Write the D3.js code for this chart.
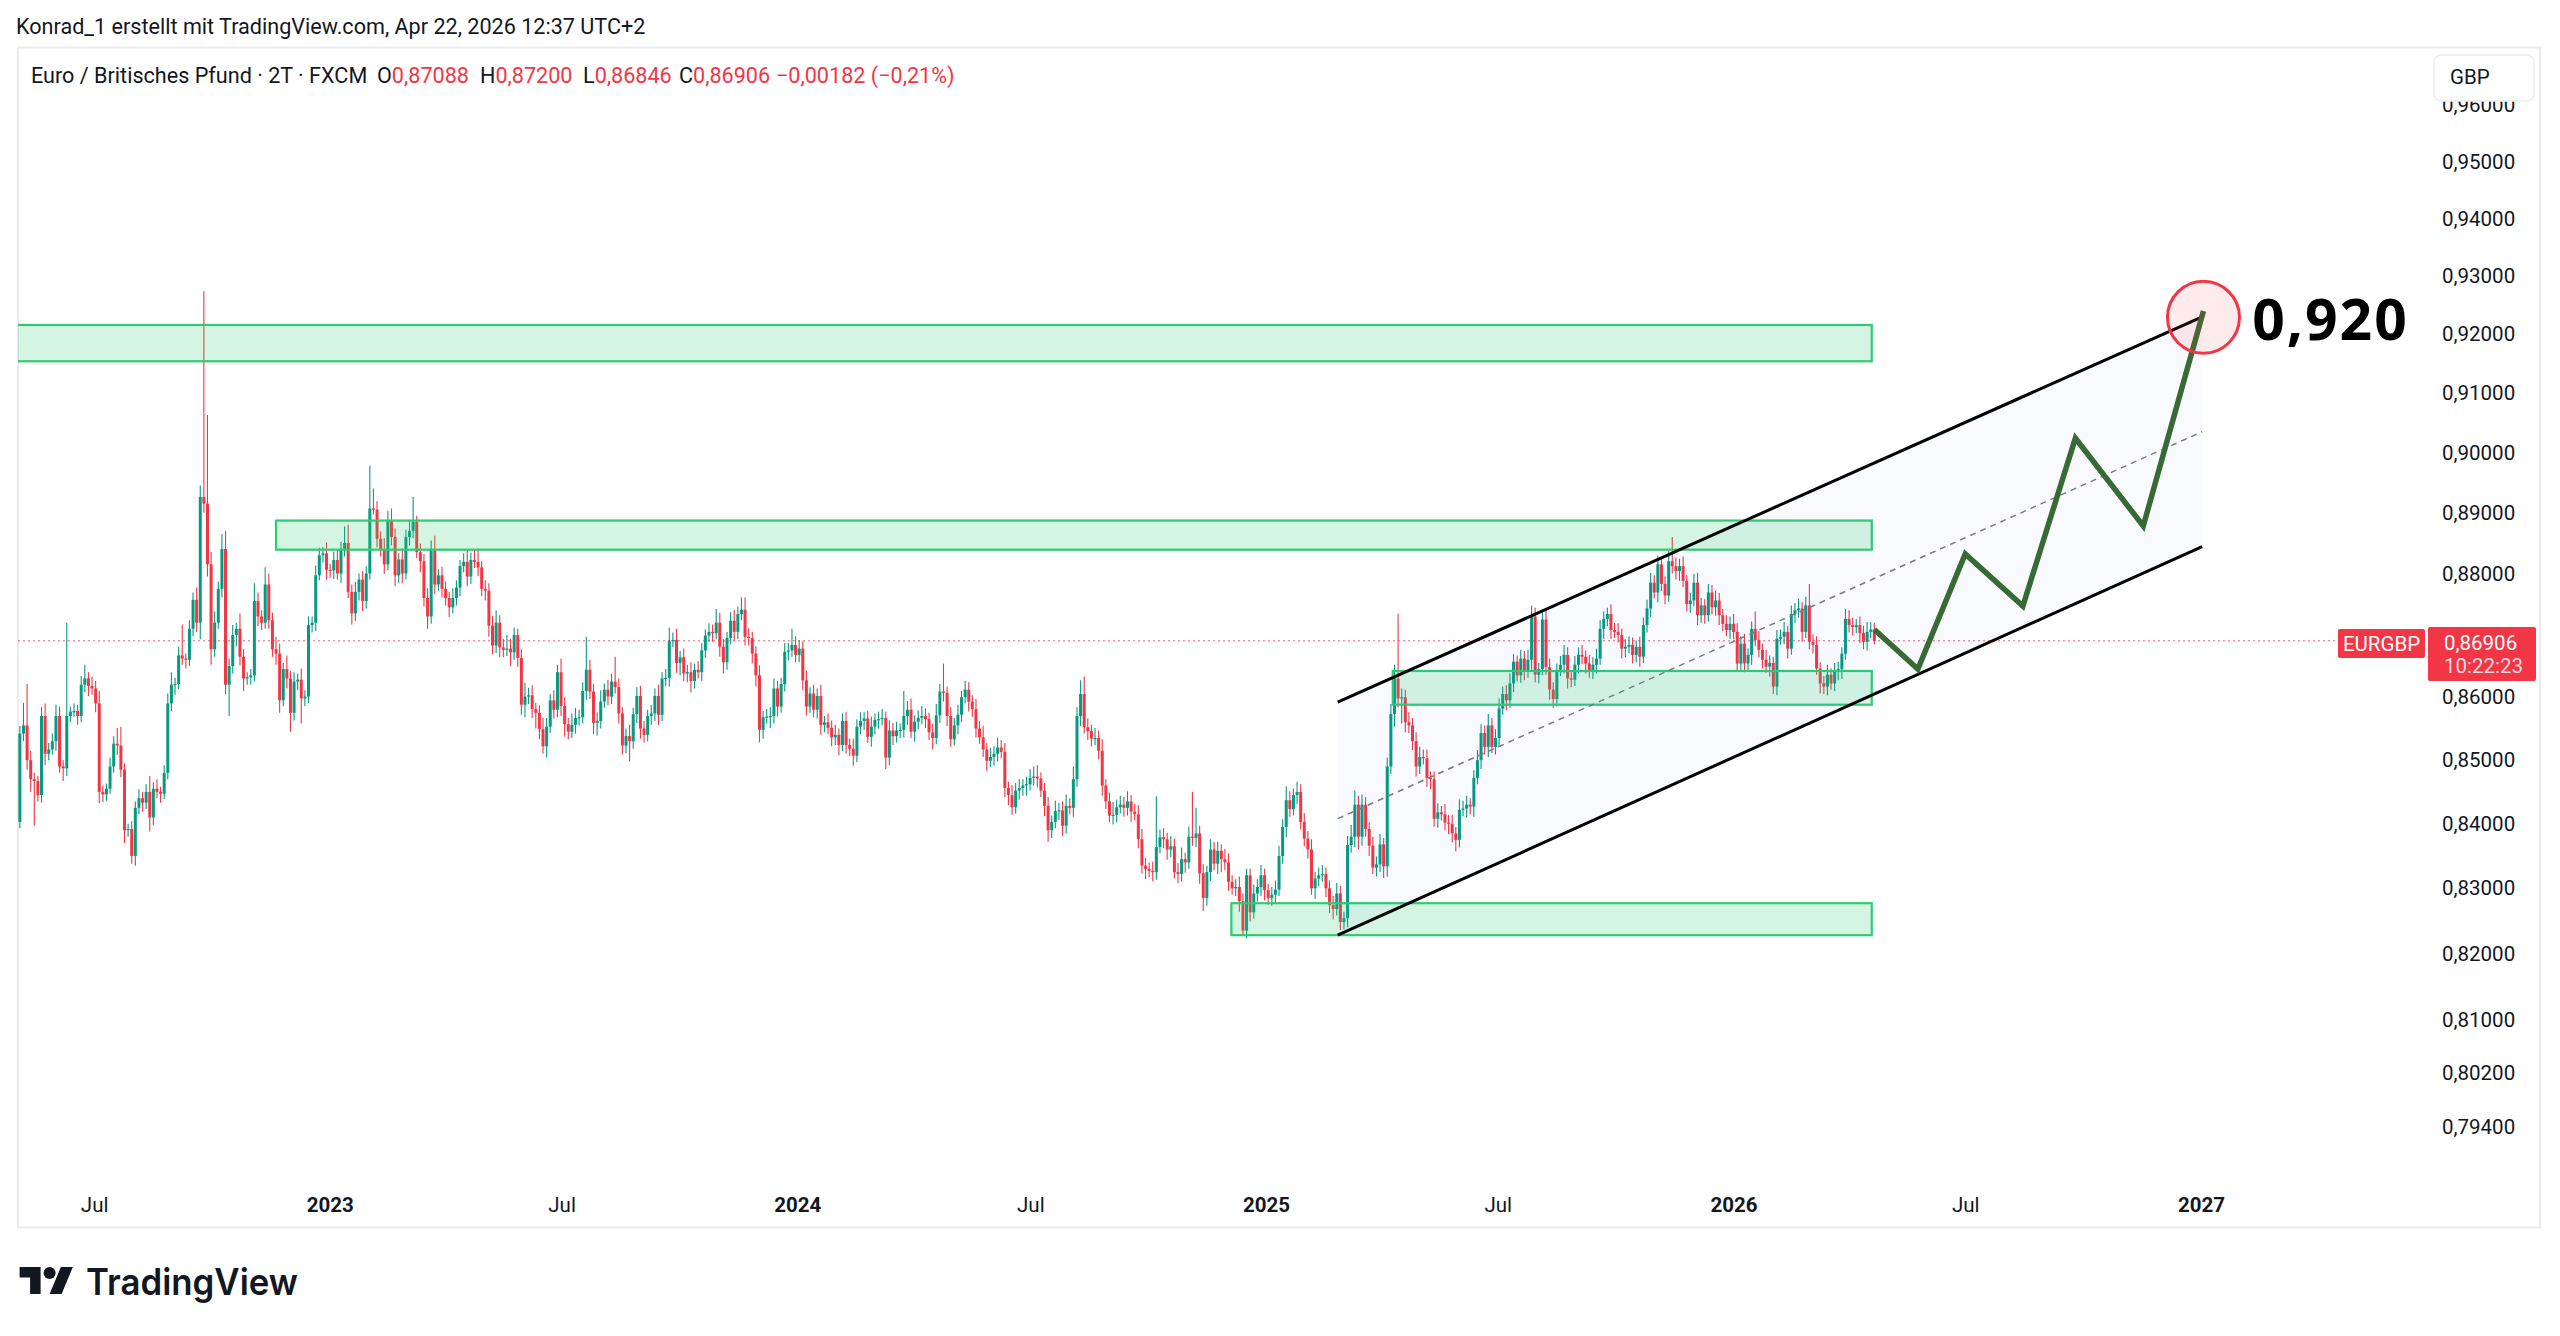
<!DOCTYPE html>
<html>
<head>
<meta charset="utf-8">
<script src="https://cdn.jsdelivr.net/npm/d3@7"></script>
<style>
  html, body { margin: 0; padding: 0; background: #fff; }
  svg { display: block; font-family: Roboto, "Noto Sans", sans-serif; }
</style>
</head>
<body>
<div id="chart"></div>
<script>
// EUR/GBP, 2-day candles, prices in 1/10000 (8542 = 0,8542)
const firstOpen = 8403;
const firstCandle = "2022-05-04";
const lastCandle = "2026-04-21";

const closes2022 = [
  8542, 8555, 8500, 8470, 8467, 8445, 8570, 8510, 8517, 8530, 8570, 8490, 8487, 8570, 8577, 8578, 8570, 8620, 8630, 8618,
  8614, 8590, 8450, 8446, 8455, 8490, 8526, 8523, 8485, 8390, 8392, 8350, 8425, 8440, 8433, 8450, 8410, 8455, 8450, 8447,
  8480, 8590, 8620, 8621, 8667, 8662, 8660, 8710, 8757, 8720, 8926, 8915, 8815, 8677, 8720, 8775, 8840, 8620, 8650, 8700,
  8710, 8665, 8630, 8632, 8635, 8755, 8730, 8720, 8782, 8724, 8677, 8670, 8595, 8645, 8630, 8575, 8625, 8628, 8598, 8601,
  8716, 8720, 8797, 8830, 8833, 8806
];
const closes2023 = [
  8805, 8822, 8800, 8840, 8850, 8770, 8735, 8770, 8790, 8755, 8800, 8907, 8905, 8857,
  8840, 8815, 8887, 8860, 8797, 8823, 8800, 8860, 8870, 8885, 8835, 8820, 8760, 8730, 8840, 8782, 8797, 8775, 8760, 8745,
  8760, 8777, 8812, 8819, 8795, 8822, 8819, 8810, 8775, 8772, 8715, 8683, 8720, 8680,
  8676, 8678, 8672, 8700, 8663, 8588, 8601, 8603, 8581, 8575, 8549, 8522, 8553, 8595, 8580, 8640, 8586, 8557, 8545, 8556, 8567, 8568, 8610, 8644, 8609, 8559,
  8562, 8593, 8612, 8601, 8625, 8616, 8574, 8523, 8538, 8530, 8573, 8602, 8550, 8540, 8570, 8574, 8602, 8572, 8630, 8631, 8690, 8692, 8655, 8664, 8638, 8640, 8626, 8644, 8640, 8675,
  8699, 8705, 8703, 8720, 8681, 8656, 8695, 8723, 8705, 8734, 8741, 8697, 8695, 8670, 8635, 8548, 8568, 8569, 8570, 8614, 8585, 8621, 8673, 8675, 8684, 8668
];
const closes2024 = [
  8678, 8627, 8585, 8606, 8580, 8602, 8556, 8560, 8551, 8536, 8540, 8524, 8562, 8524, 8518, 8507, 8553, 8562, 8566, 8537, 8553, 8564, 8565, 8567, 8504, 8547, 8538, 8547, 8548,
  8570, 8580, 8545, 8561, 8567, 8570, 8565, 8544, 8535, 8571, 8609, 8607, 8570, 8533, 8555, 8572, 8600, 8612, 8593, 8581, 8550, 8536, 8517, 8499, 8505, 8510, 8520, 8513, 8456, 8445,
  8426, 8452, 8456, 8460, 8462, 8472, 8474, 8471, 8452, 8428, 8390, 8403, 8420, 8421, 8397, 8428, 8425, 8470, 8570, 8605, 8552, 8546, 8534, 8535, 8515, 8460, 8435, 8413, 8414, 8426,
  8430, 8425, 8435, 8419, 8415, 8376, 8335, 8330, 8327, 8325, 8364, 8379, 8376, 8360, 8365, 8325, 8322, 8345, 8340, 8380, 8378, 8385, 8323, 8285, 8325, 8360, 8338, 8358, 8345, 8340,
  8310, 8300, 8302, 8280, 8235, 8320, 8263, 8292, 8302, 8320, 8297
];
const closes2025 = [
  8285, 8290, 8298, 8350, 8395, 8437, 8423, 8445, 8450, 8403,
  8377, 8360, 8300, 8315, 8320, 8322, 8300, 8274, 8268, 8292, 8248, 8254, 8367, 8380, 8430, 8380, 8430, 8392, 8366, 8332, 8337, 8368, 8334, 8490, 8573, 8630, 8598, 8600, 8560, 8555,
  8530, 8490, 8505, 8503, 8472, 8470, 8408, 8418, 8415, 8402, 8400, 8385, 8375, 8422, 8424, 8430, 8427, 8472, 8500, 8543, 8521, 8555, 8521, 8535, 8582, 8605, 8595, 8622, 8657, 8635,
  8662, 8641, 8660, 8730, 8636, 8645, 8725, 8648, 8612, 8597, 8644, 8652, 8668, 8630, 8628, 8652, 8668, 8665, 8654, 8641, 8652, 8662, 8710, 8726, 8734, 8708, 8705, 8700, 8678, 8681,
  8684, 8668, 8681, 8665, 8716, 8743, 8785, 8769, 8815, 8783, 8764, 8820, 8812, 8804, 8812, 8788, 8750, 8756, 8785, 8732, 8748, 8732, 8769, 8745, 8756, 8732, 8718, 8708, 8718, 8705
];
const closes2026 = [
  8654, 8686, 8654, 8668, 8710, 8692, 8676, 8660, 8649, 8655, 8617, 8694, 8697, 8705, 8678, 8734, 8740, 8743, 8705, 8748,
  8689, 8684, 8646, 8622, 8617, 8636, 8622, 8641, 8645, 8670, 8726, 8716, 8713, 8716, 8703, 8689, 8705, 8708.8, 8690.6
];

// wick lengths above / below the body, same units
const wickHi2022 = [
  12, 36, 66, 15, 10, 8, 14, 20, 10, 12, 18, 15, 10, 150, 8, 12, 10, 14, 22, 10,
  15, 12, 20, 10, 8, 14, 12, 25, 30, 10, 8, 12, 10, 14, 10, 12, 25, 10, 15, 8,
  12, 16, 20, 10, 14, 50, 8, 14, 12, 20, 19, 348, 148, 20, 18, 12, 25, 30, 12, 16,
  10, 25, 12, 8, 10, 29, 14, 10, 28, 18, 12, 20, 16, 10, 22, 12, 15, 10, 18, 10,
  14, 10, 16, 12, 10, 18
];
const wickLo2022 = [
  10, 12, 15, 20, 70, 10, 12, 18, 10, 8, 15, 10, 20, 12, 10, 8, 14, 10, 12, 16,
  10, 14, 18, 12, 10, 8, 10, 15, 12, 20, 10, 12, 15, 10, 14, 10, 22, 12, 10, 14,
  8, 10, 12, 16, 8, 10, 14, 10, 12, 15, 27, 15, 20, 25, 12, 10, 14, 15, 50, 12,
  18, 14, 20, 10, 12, 10, 16, 12, 10, 14, 12, 18, 20, 10, 16, 30, 12, 14, 40, 12,
  10, 12, 14, 8, 12, 16
];
const wickHi2023 = [
  10, 14, 18, 12, 27, 30, 12, 16, 10, 14, 12, 71, 33, 14,
  12, 18, 16, 20, 14, 10, 18, 12, 16, 41, 10, 14, 12, 16, 14, 22, 10, 14, 12, 10,
  16, 12, 10, 14, 20, 12, 18, 22, 10, 14, 12, 16, 20, 12,
  14, 22, 16, 12, 10, 14, 22, 12, 16, 10, 12, 18, 14, 10, 16, 12, 22, 14, 10, 18, 16, 12, 14, 53, 16, 12,
  14, 18, 10, 16, 12, 40, 14, 10, 12, 18, 10, 14, 16, 12, 10, 14, 12, 18, 10, 14, 22, 12, 18, 10, 14, 12, 16, 10, 14, 12,
  10, 14, 12, 22, 16, 12, 10, 14, 18, 12, 20, 20, 14, 10, 12, 16, 10, 12, 14, 16, 12, 10, 14, 12, 26, 14
];
const wickLo2023 = [
  12, 14, 10, 16, 12, 10, 18, 12, 14, 16, 12, 10, 8, 14,
  12, 16, 10, 14, 18, 12, 16, 10, 14, 12, 10, 18, 14, 20, 12, 16, 10, 14, 12, 16,
  10, 12, 14, 10, 16, 12, 10, 14, 12, 16, 18, 14, 12, 16,
  12, 10, 22, 12, 14, 16, 20, 12, 14, 25, 16, 12, 18, 10, 14, 12, 16, 20, 12, 10, 14, 12, 10, 14, 12, 18,
  20, 12, 10, 14, 12, 10, 16, 14, 12, 32, 12, 14, 16, 12, 10, 14, 12, 16, 10, 12, 14, 10, 16, 20, 12, 14, 18, 12, 10, 14,
  12, 10, 14, 10, 16, 18, 12, 10, 14, 12, 10, 14, 12, 16, 18, 20, 14, 10, 18, 12, 16, 10, 12, 14, 10, 12
];
const wickHi2024 = [
  14, 12, 16, 10, 14, 12, 18, 10, 14, 12, 16, 10, 12, 14, 10, 16, 12, 14, 10, 12, 16, 10, 12, 14, 10, 16, 12, 14, 10,
  40, 14, 18, 10, 12, 16, 12, 10, 14, 18, 12, 45, 10, 14, 12, 16, 10, 14, 12, 10, 16, 12, 18, 10, 14, 12, 16, 12, 14, 10,
  16, 12, 14, 10, 12, 14, 16, 18, 10, 12, 14, 10, 16, 12, 14, 18, 12, 20, 14, 22, 28, 14, 10, 16, 12, 18, 10, 14, 20, 12,
  14, 12, 16, 10, 12, 14, 16, 12, 10, 14, 79, 12, 14, 10, 16, 12, 14, 18, 10, 16, 70, 40, 12, 14, 10, 16, 12, 14, 10, 16,
  14, 10, 12, 16, 12, 10, 10, 14, 12, 16, 10
];
const wickLo2024 = [
  12, 16, 14, 10, 12, 14, 16, 12, 10, 14, 12, 16, 10, 14, 12, 16, 10, 12, 14, 10, 16, 12, 14, 10, 18, 12, 14, 10, 12,
  12, 14, 10, 16, 12, 10, 14, 12, 18, 10, 12, 14, 16, 12, 10, 14, 12, 10, 16, 12, 14, 10, 12, 16, 10, 14, 12, 10, 14, 16,
  12, 10, 14, 12, 16, 10, 12, 14, 10, 16, 18, 12, 10, 14, 16, 12, 10, 14, 12, 16, 10, 14, 12, 10, 14, 16, 12, 10, 14, 12,
  10, 14, 12, 16, 10, 14, 12, 16, 10, 14, 12, 10, 14, 16, 12, 10, 14, 12, 16, 10, 12, 14, 16, 20, 12, 14, 10, 16, 20, 12,
  14, 10, 12, 16, 8, 12, 14, 10, 12, 14, 16
];
const wickHi2025 = [
  10, 12, 14, 16, 12, 22, 14, 10, 16, 12,
  14, 12, 16, 10, 12, 14, 10, 12, 14, 16, 12, 10, 14, 18, 22, 14, 16, 12, 10, 14, 12, 16, 10, 14, 16, 22, 105, 14, 12, 16,
  12, 14, 16, 12, 14, 10, 12, 14, 10, 16, 12, 14, 10, 16, 12, 14, 10, 12, 16, 14, 12, 18, 12, 14, 16, 12, 14, 16, 12, 10,
  14, 12, 16, 18, 14, 10, 16, 18, 14, 12, 10, 14, 16, 12, 10, 14, 12, 16, 10, 14, 12, 16, 14, 12, 10, 16, 12, 14, 10, 12,
  14, 12, 10, 16, 12, 14, 16, 12, 14, 10, 12, 18, 40, 14, 12, 16, 10, 12, 14, 16, 12, 10, 14, 12, 16, 12, 10, 14, 12, 16
];
const wickLo2025 = [
  10, 12, 14, 10, 12, 16, 12, 10, 14, 12,
  12, 14, 10, 16, 12, 10, 14, 12, 16, 10, 12, 11, 14, 12, 16, 20, 14, 12, 16, 10, 14, 12, 18, 16, 12, 20, 14, 40, 16, 12,
  14, 16, 12, 10, 14, 16, 12, 14, 10, 12, 16, 14, 18, 12, 10, 14, 12, 16, 10, 14, 12, 16, 10, 12, 14, 10, 16, 12, 14, 10,
  12, 14, 10, 16, 12, 14, 10, 12, 16, 14, 12, 10, 14, 16, 12, 10, 14, 12, 16, 10, 12, 14, 10, 16, 12, 14, 10, 12, 16, 14,
  10, 14, 12, 16, 10, 12, 14, 10, 16, 12, 14, 10, 12, 14, 16, 10, 12, 14, 10, 16, 12, 14, 10, 12, 14, 16, 12, 10, 14, 12
];
const wickHi2026 = [
  14, 12, 16, 10, 12, 28, 14, 10, 16, 12, 10, 14, 12, 16, 10, 14, 12, 16, 10, 14,
  35, 12, 14, 10, 12, 16, 10, 14, 12, 10, 16, 14, 12, 10, 14, 12, 16, 12, 11.2
];
const wickLo2026 = [
  12, 10, 14, 12, 16, 10, 12, 14, 10, 16, 12, 14, 10, 12, 16, 10, 14, 12, 16, 10,
  12, 14, 10, 16, 12, 14, 10, 12, 14, 16, 10, 12, 14, 10, 16, 12, 14, 10, 6
];

// drawings
const zoneStart = ["2021-12-01", "2022-11-20", "2025-04-10", "2024-12-05"];
const zoneEnd = "2026-04-19";
const zoneTop = [0.9216, 0.8887, 0.8642, 0.8277];
const zoneBottom = [0.9154, 0.8839, 0.8588, 0.8228];

const channelDates = ["2025-02-26", "2027-01-02"];
const channelUpper = [0.8592, 0.9230];
const channelLower = [0.8228, 0.8844];

const pathDates = ["2026-04-21", "2026-05-25", "2026-07-01", "2026-08-15", "2026-09-25", "2026-11-17", "2027-01-03"];
const pathPrices = [0.8709, 0.8645, 0.8832, 0.8747, 0.9024, 0.8878, 0.9240];

const targetDate = "2027-01-03", targetPrice = 0.9229;
const targetLabel = "0,920", targetLabelDate = "2027-02-10", targetLabelPrice = 0.9190;

// 0,87000 sits under the last-price label, so it is not listed
const priceTicks = [0.96, 0.95, 0.94, 0.93, 0.92, 0.91, 0.90, 0.89, 0.88, 0.86, 0.85, 0.84, 0.83, 0.82, 0.81, 0.802, 0.794];
const timeTicks = ["2022-07-01", "2023-01-01", "2023-07-01", "2024-01-01", "2024-07-01", "2025-01-01", "2025-07-01", "2026-01-01", "2026-07-01", "2027-01-01"];
const timeLabels = ["Jul", "2023", "Jul", "2024", "Jul", "2025", "Jul", "2026", "Jul", "2027"];

const up = "#089981", down = "#f23645";
const width = 2560, height = 1336;
const pane = { left: 18, right: 2428, top: 48, bottom: 1186 };

const parse = d3.timeParse("%Y-%m-%d");
const loc = d3.formatLocale({ decimal: ",", thousands: ".", grouping: [3], currency: ["", ""] });
const fmt = loc.format(".5f");

const xScale = d3.scaleTime()
  .domain([parse("2023-01-01"), parse("2027-01-01")])
  .range([329.8, 2200.9]);
const yScale = d3.scaleLog()
  .domain([0.95, 0.82])
  .range([161.6, 953.5]);

const closes = [].concat(closes2022, closes2023, closes2024, closes2025, closes2026).map(v => v / 1e4);
const hiW = [].concat(wickHi2022, wickHi2023, wickHi2024, wickHi2025, wickHi2026);
const loW = [].concat(wickLo2022, wickLo2023, wickLo2024, wickLo2025, wickLo2026);
const n = closes.length;
const t0 = parse(firstCandle), t1 = parse(lastCandle);
const candles = closes.map((c, i) => {
  const o = i === 0 ? firstOpen / 1e4 : closes[i - 1];
  return {
    date: new Date(+t0 + (t1 - t0) * i / (n - 1)),
    open: o, close: c,
    high: Math.max(o, c) + hiW[i] / 1e4,
    low: Math.min(o, c) - loW[i] / 1e4
  };
});
const last = candles[n - 1];

const svg = d3.select("#chart").append("svg")
  .attr("width", width)
  .attr("height", height);

svg.append("rect").attr("width", width).attr("height", height).attr("fill", "#fff");

svg.append("text")
  .attr("x", 16).attr("y", 26)
  .attr("dominant-baseline", "central")
  .style("font-size", "21.6px")
  .attr("fill", "#131722")
  .text("Konrad_1 erstellt mit TradingView.com, Apr 22, 2026 12:37 UTC+2");

svg.append("rect")
  .attr("x", 18).attr("y", 47.5)
  .attr("width", 2522).attr("height", 1180)
  .attr("fill", "#fff")
  .attr("stroke", "#ebebeb")
  .attr("stroke-width", 2);

svg.append("clipPath").attr("id", "pane")
  .append("rect")
  .attr("x", pane.left).attr("y", pane.top)
  .attr("width", pane.right - pane.left).attr("height", pane.bottom - pane.top);

const plot = svg.append("g").attr("clip-path", "url(#pane)");

// last price line
plot.append("line")
  .attr("x1", pane.left).attr("x2", pane.right)
  .attr("y1", yScale(last.close)).attr("y2", yScale(last.close))
  .attr("stroke", down).attr("stroke-width", 1)
  .attr("stroke-dasharray", "2,3").attr("opacity", 0.8);

// candles
const bodyW = 3;
plot.selectAll("line.wick")
  .data(candles)
  .join("line")
  .attr("class", "wick")
  .attr("x1", d => xScale(d.date)).attr("x2", d => xScale(d.date))
  .attr("y1", d => yScale(d.high)).attr("y2", d => yScale(d.low))
  .attr("stroke", d => d.close >= d.open ? up : down)
  .attr("stroke-width", 1.1);

plot.selectAll("rect.body")
  .data(candles)
  .join("rect")
  .attr("class", "body")
  .attr("x", d => xScale(d.date) - bodyW / 2)
  .attr("y", d => yScale(Math.max(d.open, d.close)))
  .attr("width", bodyW)
  .attr("height", d => Math.max(1.2, yScale(Math.min(d.open, d.close)) - yScale(Math.max(d.open, d.close))))
  .attr("fill", d => d.close >= d.open ? up : down);

// support / resistance zones
zoneTop.forEach((top, i) => {
  const x0 = xScale(parse(zoneStart[i])), x1 = xScale(parse(zoneEnd));
  plot.append("rect")
    .attr("x", x0).attr("y", yScale(top))
    .attr("width", x1 - x0)
    .attr("height", yScale(zoneBottom[i]) - yScale(top))
    .attr("fill", "rgba(46,204,113,0.2)")
    .attr("stroke", "#2ecc71")
    .attr("stroke-width", 2.2);
});

// parallel channel
const cx0 = xScale(parse(channelDates[0])), cx1 = xScale(parse(channelDates[1]));
const u0 = yScale(channelUpper[0]), u1 = yScale(channelUpper[1]);
const l0 = yScale(channelLower[0]), l1 = yScale(channelLower[1]);
plot.append("path")
  .attr("d", `M${cx0},${u0}L${cx1},${u1}L${cx1},${l1}L${cx0},${l0}Z`)
  .attr("fill", "rgba(41,98,255,0.03)");
plot.append("line")
  .attr("x1", cx0).attr("y1", (u0 + l0) / 2).attr("x2", cx1).attr("y2", (u1 + l1) / 2)
  .attr("stroke", "#787b86").attr("stroke-width", 1.5).attr("stroke-dasharray", "6,5");
[[u0, u1], [l0, l1]].forEach(([a, b]) => {
  plot.append("line")
    .attr("x1", cx0).attr("y1", a).attr("x2", cx1).attr("y2", b)
    .attr("stroke", "#000").attr("stroke-width", 3);
});

// projected path
const pathLine = d3.line().x(d => xScale(parse(d[0]))).y(d => yScale(d[1]));
plot.append("path")
  .attr("d", pathLine(pathDates.map((d, i) => [d, pathPrices[i]])))
  .attr("fill", "none")
  .attr("stroke", "#386a33")
  .attr("stroke-width", 5.5)
  .attr("stroke-linejoin", "miter");

plot.append("circle")
  .attr("cx", xScale(parse(targetDate)))
  .attr("cy", yScale(targetPrice))
  .attr("r", 36)
  .attr("fill", "rgba(242,54,69,0.1)")
  .attr("stroke", down)
  .attr("stroke-width", 3);

plot.append("text")
  .attr("x", xScale(parse(targetLabelDate)))
  .attr("y", yScale(targetLabelPrice))
  .style("font-family", "'Open Sans', sans-serif")
  .style("font-size", "57px")
  .style("font-weight", "bold")
  .style("letter-spacing", "2px")
  .attr("fill", "#000")
  .text(targetLabel);

// price axis
const yAxis = svg.append("g")
  .attr("transform", "translate(2442,0)")
  .call(d3.axisRight(yScale).tickValues(priceTicks).tickFormat(fmt).tickSize(0).tickPadding(0));
yAxis.select(".domain").remove();
yAxis.selectAll("text")
  .style("font-family", "Roboto, sans-serif")
  .style("font-size", "20.5px")
  .attr("fill", "#131722");

// time axis
const xAxis = svg.append("g")
  .attr("transform", "translate(0,1194)")
  .call(d3.axisBottom(xScale).tickValues(timeTicks.map(parse)).tickFormat((d, i) => timeLabels[i]).tickSize(0).tickPadding(3));
xAxis.select(".domain").remove();
xAxis.selectAll("text")
  .style("font-family", "Roboto, sans-serif")
  .style("font-size", "20.5px")
  .style("font-weight", (d, i) => timeLabels[i] === "Jul" ? "normal" : "bold")
  .attr("fill", "#131722");

// currency button (covers the top of the 0,96000 label as in the original)
svg.append("rect")
  .attr("x", 2434).attr("y", 55).attr("width", 100).attr("height", 46).attr("rx", 7)
  .attr("fill", "#fff").attr("stroke", "#ececec").attr("stroke-width", 1.5);
svg.append("text")
  .attr("x", 2450).attr("y", 77).attr("dominant-baseline", "central")
  .style("font-size", "20.5px").attr("fill", "#131722").text("GBP");

// symbol + last price labels
svg.append("rect")
  .attr("x", 2338).attr("y", 629).attr("width", 87).attr("height", 29).attr("rx", 2)
  .attr("fill", down);
svg.append("text")
  .attr("x", 2381.5).attr("y", 644).attr("text-anchor", "middle").attr("dominant-baseline", "central")
  .style("font-size", "20.5px").attr("fill", "#fff").text("EURGBP");
svg.append("rect")
  .attr("x", 2428).attr("y", 627).attr("width", 108).attr("height", 54).attr("rx", 2)
  .attr("fill", down);
svg.append("text")
  .attr("x", 2444).attr("y", 643).attr("dominant-baseline", "central")
  .style("font-size", "20.5px").attr("fill", "#fff").text(fmt(last.close));
svg.append("text")
  .attr("x", 2444).attr("y", 666).attr("dominant-baseline", "central")
  .style("font-size", "20.5px").attr("fill", "#fff").attr("fill-opacity", 0.82).text("10:22:23");

// legend
const legendY = 75;
svg.append("text")
  .attr("x", 31).attr("y", legendY).attr("dominant-baseline", "central")
  .style("font-size", "21.6px").attr("fill", "#131722")
  .text("Euro / Britisches Pfund · 2T · FXCM");
const ohlcKeys = ["O", "H", "L", "C"];
const ohlcVals = [last.open, last.high, last.low, last.close];
const ohlcX = [377, 480, 583, 679];
ohlcKeys.forEach((k, i) => {
  const t = svg.append("text")
    .attr("x", ohlcX[i]).attr("y", legendY).attr("dominant-baseline", "central")
    .style("font-size", "21.6px");
  t.append("tspan").attr("fill", "#131722").text(k);
  t.append("tspan").attr("fill", down).text(fmt(ohlcVals[i]));
});
const chg = last.close - last.open;
svg.append("text")
  .attr("x", 776).attr("y", legendY).attr("dominant-baseline", "central")
  .style("font-size", "21.6px").attr("fill", down)
  .text(`${fmt(chg)} (${loc.format(".2f")(chg / last.open * 100)}%)`);

// TradingView logo
const logo = svg.append("g").attr("transform", "translate(19.6,1261) scale(1.5)").attr("fill", "#131722");
logo.append("path").attr("d", "M14 22H7V11H0V4h14v18zM28 22h-8l7.5-18h8L28 22z");
logo.append("circle").attr("cx", 20).attr("cy", 8).attr("r", 4);
svg.append("text")
  .attr("x", 86).attr("y", 1295)
  .attr("textLength", 212).attr("lengthAdjust", "spacingAndGlyphs")
  .style("font-family", "Inter, sans-serif")
  .style("font-size", "37px").style("font-weight", 600)
  .attr("fill", "#131722")
  .text("TradingView");
</script>
</body>
</html>
